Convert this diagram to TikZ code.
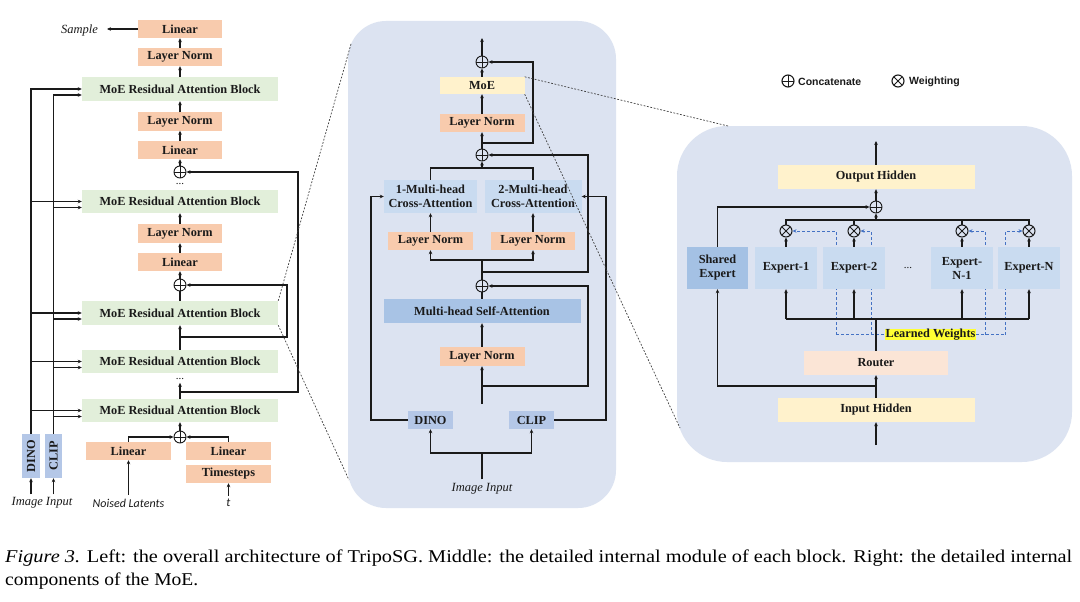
\documentclass[tikz,border=0pt]{standalone}
\usepackage{fontspec}
\usepackage{graphicx}
\setmainfont{Liberation Serif}
\newfontfamily\lgfont{Liberation Sans}
\newfontfamily\calfont{Carlito}
\usetikzlibrary{arrows.meta,calc}
\definecolor{cOr}{HTML}{F8CBAD}
\definecolor{cGr}{HTML}{E2EFDA}
\definecolor{cBl}{HTML}{B4C7E7}
\definecolor{cPanel}{HTML}{DCE3F1}
\definecolor{cCA}{HTML}{C9DBF0}
\definecolor{cMH}{HTML}{A8C3E5}
\definecolor{cYe}{HTML}{FFF2CC}
\definecolor{cRo}{HTML}{FBE5D6}
\definecolor{cSh}{HTML}{A4C1E4}
\definecolor{cDash}{HTML}{4472C4}
\definecolor{cHl}{HTML}{FFFF33}
\definecolor{cLine}{HTML}{1A1A1A}
\tikzset{
  bx/.style={inner sep=0pt, align=center, text=cLine, font=\fontsize{12.3}{14}\selectfont\bfseries},
  orbox/.style={bx, fill=cOr, minimum width=84pt, minimum height=18pt},
  moebox/.style={bx, fill=cGr, minimum width=196pt, minimum height=24pt},
  exbox/.style={bx, fill=cCA, minimum width=62pt, minimum height=42pt},
  panelst/.style={fill=cPanel, draw=none, inner sep=0pt},
  ln/.style={draw=cLine, line width=1.1pt},
  arr/.style={ln, -{Stealth[length=4pt,width=3.6pt]}},
  oplus/.style={circle, draw=cLine, line width=0.9pt, minimum size=12pt, inner sep=0pt,
    path picture={\draw[cLine, line width=0.9pt] (path picture bounding box.north) -- (path picture bounding box.south)
      (path picture bounding box.west) -- (path picture bounding box.east);}},
  otimes/.style={circle, draw=cLine, line width=1pt, minimum size=12pt, inner sep=0pt,
    path picture={\draw[cLine, line width=1pt] (path picture bounding box.north west) -- (path picture bounding box.south east)
      (path picture bounding box.south west) -- (path picture bounding box.north east);}},
  dotsst/.style={inner sep=0pt, font=\fontsize{11}{11}\selectfont, text=cLine},
  itx/.style={inner sep=0pt, font=\fontsize{12.5}{14}\selectfont\itshape, text=cLine},
  calt/.style={inner sep=0pt, font=\fontsize{12}{14}\calfont\itshape, text=cLine},
  zl/.style={draw=black!75, line width=0.7pt, dash pattern=on 1.8pt off 1.6pt},
  dsh/.style={draw=cDash, line width=0.9pt, dash pattern=on 3pt off 2pt},
  dsharr/.style={dsh, -{Stealth[length=4pt,width=3.6pt]}},
  lgtext/.style={inner sep=0pt, anchor=west, font=\fontsize{10.5}{12}\lgfont\bfseries, text=cLine},
}
\begin{document}
\begin{tikzpicture}[x=1pt,y=-1pt]
\useasboundingbox (0,0) rectangle (1080,602);
\fill[white] (0,0) rectangle (1080,602);

% panels
\node[panelst, minimum width=268pt, minimum height=487pt, rounded corners=38pt] (mpanel) at (482,264.5) {};
\node[panelst, minimum width=395pt, minimum height=336pt, rounded corners=50pt] (rpanel) at (874.5,294) {};

% ================= LEFT =================
\node[orbox] (linA) at (180,29) {Linear};
\node[orbox] (lnA) at (180,57) {Layer Norm};
\node[moebox] (moe1) at (180,89) {MoE Residual Attention Block};
\node[orbox] (lnB) at (180,121.5) {Layer Norm};
\node[orbox] (linB) at (180,150) {Linear};
\node[oplus] (plusA) at (180,172) {};
\node[dotsst] (dotsA) at (180,184) {...};
\node[moebox, minimum height=23pt] (moe2) at (180,201.5) {MoE Residual Attention Block};
\node[orbox, minimum height=19pt] (lnC) at (180,233.5) {Layer Norm};
\node[orbox] (linC) at (180,262) {Linear};
\node[oplus] (plusB) at (180,285) {};
\node[moebox] (moe3) at (180,313) {MoE Residual Attention Block};
\node[moebox, minimum height=23pt] (moe4) at (180,361.5) {MoE Residual Attention Block};
\node[dotsst] (dotsB) at (180,379) {...};
\node[moebox, minimum height=23pt] (moe5) at (180,410.5) {MoE Residual Attention Block};
\node[oplus] (plusC) at (180,437) {};
\node[orbox, minimum width=85pt] (linL) at (128.5,451) {Linear};
\node[orbox, minimum width=85pt] (linR) at (228.5,451) {Linear};
\node[orbox, minimum width=85pt] (ts) at (228.5,474) {Timesteps};
\node[bx, fill=cBl, minimum width=18pt, minimum height=44pt] (dino) at (31,456) {};
\node[bx, rotate=90] (dinoT) at (dino.center) {DINO};
\node[bx, fill=cBl, minimum width=17pt, minimum height=44pt] (clip) at (53.5,456) {};
\node[bx, rotate=90] (clipT) at (clip.center) {CLIP};
\node[itx, anchor=east] (sample) at (98,30) {Sample};
\node[itx] (img) at (42,503) {Image Input};
\node[calt] (noised) at (128.5,503) {Noised Latents};
\node[calt] (tt) at (228.5,503) {t};

\draw[arr, shorten >=9pt] (linA.west) -- (linA.west -| sample.east);
\draw[arr] (lnA.north) -- (linA.south);
\draw[arr] (moe1.north) -- (lnA.south);
\draw[arr] (lnB.north) -- (moe1.south);
\draw[arr] (linB.north) -- (lnB.south);
\draw[arr] (plusA.north) -- (linB.south);
\draw[arr] (lnC.north) -- (moe2.south);
\draw[arr] (linC.north) -- (lnC.south);
\draw[arr] (plusB.north) -- (linC.south);
\draw[ln] (moe3.north) -- (plusB.south);
\coordinate (jB) at (180,337);
\coordinate (cB) at (287,337);
\draw[arr] (jB) -- (moe3.south);
\draw[ln] (moe4.north) -- (jB);
\draw[arr] (jB) -- (cB) |- (plusB.east);
\coordinate (jA) at (180,392);
\coordinate (cA) at (298,392);
\draw[ln] (moe5.north) -- (jA);
\draw[arr] (jA) -- ($(dotsB.south)+(0,3)$);
\draw[arr] (jA) -- (cA) |- (plusA.east);
\draw[arr] (plusC.north) -- (moe5.south);
\draw[arr] (linL.north) |- (plusC.west);
\draw[arr] (linR.north) |- (plusC.east);
\draw[arr, shorten <=4pt] (noised.north) -- (linL.south);
\draw[arr, shorten <=3pt] (tt.north) -- (ts.south);
\draw[arr, shorten <=3pt] (img.north -| dino.south) -- (dino.south);
\draw[arr, shorten <=3pt] (img.north -| clip.south) -- (clip.south);
% DINO / CLIP feeds
\foreach \m in {moe1,moe2,moe3,moe4,moe5}{
  \coordinate (\m C) at ($(\m.west)+(0,6)$);
}
\draw[arr] (dino.north) |- (moe1.west);
\draw[arr] (clip.north) |- (moe1C);
\foreach \m in {moe2,moe3,moe4,moe5}{
  \draw[arr] (dino.north |- \m.west) -- (\m.west);
  \draw[arr] (clip.north |- \m C) -- (\m C);
}

% zoom lines left -> middle
\coordinate (mTL) at (351,44);
\coordinate (mBL) at (349,480);
\draw[zl] (moe3.north east) -- (mTL);
\draw[zl] (moe3.south east) -- (mBL);

% ================= MIDDLE =================
\coordinate (mtop) at (482,38);
\node[oplus] (mplusT) at (482,62) {};
\node[bx, fill=cYe, minimum width=85pt, minimum height=17pt] (mmoe) at (482,85.5) {MoE};
\node[orbox, minimum width=85pt] (mlnA) at (482,123) {Layer Norm};
\node[oplus] (mplusM) at (482,155) {};
\node[bx, fill=cCA, minimum width=93pt, minimum height=33pt] (ca1) at (430.5,196.5) {1-Multi-head\\Cross-Attention};
\node[bx, fill=cCA, minimum width=97pt, minimum height=33pt] (ca2) at (533,196.5) {2-Multi-head\\Cross-Attention};
\node[orbox, minimum width=85pt] (mlnL) at (430.5,241) {Layer Norm};
\node[orbox] (mlnR) at (533,241) {Layer Norm};
\node[oplus] (mplusB) at (482,286) {};
\node[bx, fill=cMH, minimum width=197pt, minimum height=24pt] (mhsa) at (482,311) {Multi-head Self-Attention};
\node[orbox, minimum width=85pt, minimum height=19pt] (mlnB) at (482,356.5) {Layer Norm};
\node[bx, fill=cBl, minimum width=45pt, minimum height=18pt] (mdino) at (430.5,420) {DINO};
\node[bx, fill=cBl, minimum width=45pt, minimum height=18pt] (mclip) at (531.5,420) {CLIP};
\node[itx] (mimg) at (482,489) {Image Input};

\draw[arr] (mplusT.north) -- (mtop);
\draw[arr] (mmoe.north) -- (mplusT.south);
\draw[arr] (mlnA.north) -- (mmoe.south);
\draw[arr] (mplusM.north) -- (mlnA.south);
\coordinate (mj1) at (482,143);
\coordinate (mc1) at (533,143);
\draw[arr] (mj1) -- (mc1) |- (mplusT.east);
\coordinate (mj2) at (482,168);
\draw[ln] (ca1.north) -- (ca1.north |- mj2) -- (ca2.north |- mj2) -- (ca2.north);
\draw[arr] (mj2) -- (mplusM.south);
\draw[arr] (mlnL.north) -- (mlnL.north |- ca1.south);
\draw[arr] (mlnR.north) -- (mlnR.north |- ca2.south);
\coordinate (mj3) at (482,260);
\draw[ln] (mplusB.north) -- (mj3);
\draw[arr] (mj3) -| (mlnL.south);
\draw[arr] (mj3) -| (mlnR.south);
\coordinate (mj4) at (482,272);
\coordinate (mc4) at (588,272);
\draw[arr] (mj4) -- (mc4) |- (mplusM.east);
\draw[ln] (mhsa.north) -- (mplusB.south);
\draw[arr] (mlnB.north) -- (mhsa.south);
\coordinate (mbot) at (482,404);
\coordinate (mj5) at (482,386);
\coordinate (mc5) at (588,386);
\draw[arr] (mbot) -- (mlnB.south);
\draw[arr] (mj5) -- (mc5) |- (mplusB.east);
\coordinate (mc6) at (371,300);
\coordinate (mc7) at (606,300);
\draw[arr] (mdino.west) -| (mc6) |- (ca1.west);
\draw[arr] (mclip.east) -| (mc7) |- (ca2.east);
\coordinate (mj6) at (482,453);
\draw[ln, shorten <=4pt] (mimg.north) -- (mj6);
\draw[arr] (mj6) -| (mdino.south);
\draw[arr] (mj6) -| (mclip.south);

% zoom lines middle -> right
\coordinate (rTL) at (728,126);
\coordinate (rBL) at (680,428);
\draw[zl] (mmoe.north east) -- (rTL);
\draw[zl] (mmoe.south east) -- (rBL);

% ================= RIGHT =================
\node[oplus, line width=1.1pt] (lgp) at (788,81) {};
\node[lgtext] (lgpt) at (798,81.5) {Concatenate};
\node[otimes, line width=1.1pt] (lgx) at (898,81) {};
\node[lgtext] (lgxt) at (909,81.5) {Weighting};

\coordinate (rtop) at (876,141);
\node[bx, fill=cYe, minimum width=197pt, minimum height=24pt] (outh) at (876,177) {Output Hidden};
\node[oplus] (rplus) at (876,207) {};
\node[otimes] (w1) at (786,231) {};
\node[otimes] (w2) at (854,231) {};
\node[otimes] (w3) at (962,231) {};
\node[otimes] (w4) at (1029,231) {};
\node[bx, fill=cHl, inner ysep=0.3pt, inner xsep=0.5pt] (lw) at (930.5,334.5) {Learned Weights};

\coordinate (d1) at (836,334.5);
\coordinate (d2) at (871,334.5);
\coordinate (d3) at (985,334.5);
\coordinate (d4) at (1005,334.5);
\draw[dsh] (d1) -- (lw.west);
\draw[dsh] (lw.east) -- (d4);
\draw[dsharr] (d1) |- (w1.east);
\draw[dsharr] (d2) |- (w2.east);
\draw[dsharr] (d3) |- (w3.east);
\draw[dsharr] (d4) |- (w4.west);

\node[exbox, fill=cSh, minimum width=61pt] (shared) at (717.5,268) {Shared\\Expert};
\node[exbox] (e1) at (786,268) {Expert-1};
\node[exbox] (e2) at (854,268) {Expert-2};
\node[dotsst] (edots) at (908,268) {...};
\node[exbox] (en1) at (962,268) {Expert-\\N-1};
\node[exbox] (eN) at (1029,268) {Expert-N};
\node[bx, fill=cRo, minimum width=144pt, minimum height=24pt] (router) at (876,363) {Router};
\node[bx, fill=cYe, minimum width=197pt, minimum height=24pt] (inh) at (876,410) {Input Hidden};

\draw[arr] (outh.north) -- (rtop);
\draw[arr] (rplus.north) -- (outh.south);
\draw[arr] (shared.north) |- (rplus.west);
\coordinate (rb1) at (876,220);
\draw[ln] (w1.north) -- (w1.north |- rb1) -- (w4.north |- rb1) -- (w4.north);
\draw[ln] (w2.north) -- (w2.north |- rb1);
\draw[ln] (w3.north) -- (w3.north |- rb1);
\draw[arr] (rb1) -- (rplus.south);
\draw[arr] (e1.north) -- (w1.south);
\draw[arr] (e2.north) -- (w2.south);
\draw[arr] (en1.north) -- (w3.south);
\draw[arr] (eN.north) -- (w4.south);
\coordinate (rb2) at (876,319);
\draw[ln] (e1.south |- rb2) -- (eN.south |- rb2);
\draw[arr] (e1.south |- rb2) -- (e1.south);
\draw[arr] (e2.south |- rb2) -- (e2.south);
\draw[arr] (en1.south |- rb2) -- (en1.south);
\draw[arr] (eN.south |- rb2) -- (eN.south);
\draw[ln] (router.north) -- (rb2);
\draw[arr] (inh.north) -- (router.south);
\coordinate (rj) at (876,386);
\draw[arr] (rj) -| (shared.south);
\coordinate (rin) at (876,445);
\draw[arr] (rin) -- (inh.south);

% ================= CAPTION =================
\node[anchor=base west, inner sep=0pt, font=\fontsize{18}{20}\selectfont] (cap1) at (5,562)
  {\resizebox{1067pt}{\height}{\textit{Figure 3.} Left: the overall architecture of TripoSG. Middle: the detailed internal module of each block. Right: the detailed internal}};
\node[anchor=base west, inner sep=0pt, font=\fontsize{18}{20}\selectfont] (cap2) at (5,585)
  {\resizebox{193pt}{\height}{components of the MoE.}};
\end{tikzpicture}
\end{document}
